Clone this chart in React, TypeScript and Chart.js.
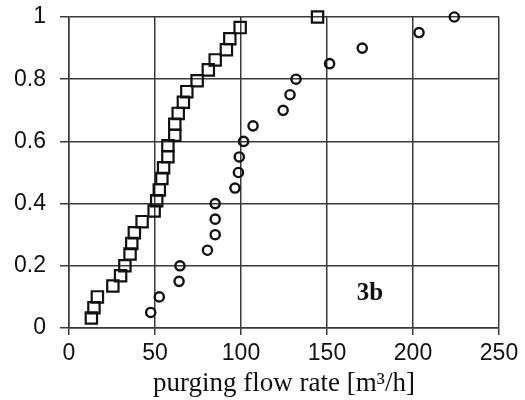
import React, { useEffect, useRef } from "react";
import { Chart, registerables } from "chart.js";

Chart.register(...registerables);

const squareX = [13, 14.5, 16.5, 25.5, 30, 32.5, 35.5, 36.5, 38, 42.5, 49.5, 51, 52.5, 54, 55, 57.5, 57.5, 61.5, 61.5, 63.5, 66.5, 68.5, 74.5, 81, 85, 91.5, 93.5, 99.5, 144.5];
const squareY = [0.032, 0.065, 0.1, 0.135, 0.168, 0.2, 0.238, 0.272, 0.306, 0.342, 0.376, 0.409, 0.444, 0.481, 0.515, 0.551, 0.586, 0.62, 0.655, 0.69, 0.726, 0.76, 0.795, 0.83, 0.862, 0.895, 0.93, 0.966, 1.0];

const circleX = [47.5, 52.5, 64, 64.5, 80.5, 85, 85, 85, 96.5, 98.5, 99, 101.5, 107, 124.5, 128.5, 132, 151.5, 170.5, 203.5, 224];
const circleY = [0.05, 0.1, 0.15, 0.2, 0.25, 0.3, 0.35, 0.4, 0.45, 0.5, 0.55, 0.6, 0.65, 0.7, 0.75, 0.8, 0.85, 0.9, 0.95, 1.0];

const xTitle = "purging flow rate [m³/h]";
const panelLabel = "3b";
const panelLabelX = 175;
const panelLabelY = 0.11;

const gridColor = "#3a3a3a";

const labelPlugin = {
  id: "panelLabel",
  afterDatasetsDraw(chart: any) {
    const { ctx, scales } = chart;
    const px = scales.x.getPixelForValue(panelLabelX);
    const py = scales.y.getPixelForValue(panelLabelY);
    ctx.save();
    ctx.font = "bold 25px 'Liberation Serif', serif";
    ctx.fillStyle = "#111";
    ctx.textAlign = "center";
    ctx.textBaseline = "middle";
    ctx.fillText(panelLabel, px, py);
    ctx.restore();
  },
};

export default function App() {
  const ref = useRef<HTMLCanvasElement | null>(null);
  useEffect(() => {
    if (!ref.current) return;
    const chart = new Chart(ref.current, {
      type: "scatter",
      data: {
        datasets: [
          {
            label: "squares",
            data: squareX.map((x, i) => ({ x, y: squareY[i] })),
            pointStyle: "rect",
            pointRadius: 8,
            pointBorderWidth: 2.2,
            pointBorderColor: "#111",
            pointBackgroundColor: "rgba(255,255,255,0)",
            clip: false as any,
          },
          {
            label: "circles",
            data: circleX.map((x, i) => ({ x, y: circleY[i] })),
            pointStyle: "circle",
            pointRadius: 4.6,
            pointBorderWidth: 2.4,
            pointBorderColor: "#111",
            pointBackgroundColor: "rgba(255,255,255,0)",
            clip: false as any,
          },
        ],
      },
      options: {
        animation: false,
        responsive: false,
        layout: { padding: { left: 0, right: 26, top: 17, bottom: 0 } },
        plugins: {
          legend: { display: false },
          tooltip: { enabled: false },
        },
        scales: {
          x: {
            type: "linear",
            min: 0,
            max: 250,
            afterFit: (s: any) => {
              s.height = 72;
              s.paddingLeft = 0;
              s.paddingRight = 0;
            },
            ticks: {
              stepSize: 50,
              color: "#111",
              padding: 5,
              font: { family: "'Liberation Sans', Arial, sans-serif", size: 23 },
              maxRotation: 0,
            },
            grid: { color: gridColor, lineWidth: 1.5, tickLength: 7, tickColor: gridColor },
            border: { display: true, color: gridColor, width: 1.5 },
            title: {
              display: true,
              text: xTitle,
              color: "#111",
              padding: { top: 0, bottom: 0 },
              font: { family: "'Liberation Serif', serif", size: 27 },
            },
          },
          y: {
            type: "linear",
            min: 0,
            max: 1,
            afterFit: (s: any) => {
              s.width = 69;
              s.paddingTop = 0;
              s.paddingBottom = 0;
            },
            ticks: {
              stepSize: 0.2,
              color: "#111",
              padding: 14,
              font: { family: "'Liberation Sans', Arial, sans-serif", size: 23 },
              callback: (v: any) => String(Math.round(Number(v) * 10) / 10),
            },
            grid: { color: gridColor, lineWidth: 1.5, tickLength: 9, tickColor: gridColor },
            border: { display: true, color: gridColor, width: 1.5 },
          },
        },
      },
      plugins: [labelPlugin],
    });
    return () => chart.destroy();
  }, []);
  return (
    <div style={{ position: "fixed", left: 0, top: 0, width: 525, height: 400, background: "#fff" }}>
      <canvas ref={ref} width={525} height={400} style={{ width: 525, height: 400 }} />
    </div>
  );
}
